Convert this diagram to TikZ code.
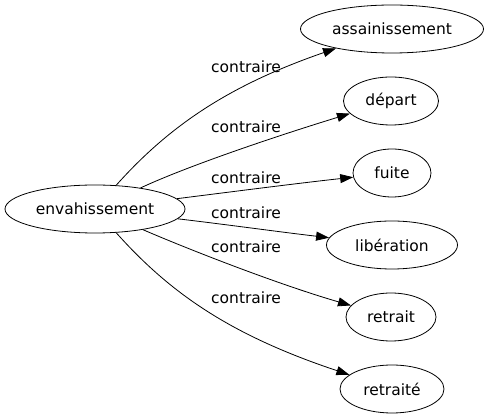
\documentclass[tikz,border=0pt]{standalone}
\usepackage{fontspec}
\setmainfont{DejaVu Sans}
\usetikzlibrary{shapes.geometric,arrows.meta}

\begin{document}
\begin{tikzpicture}[x=1pt, y=-1pt, line width=0.8pt,
  font=\fontsize{15.5}{18}\selectfont,
  word/.style={ellipse, draw, minimum height=48pt, inner sep=0pt},
  rel/.style={-{Triangle[length=13pt, width=9pt]}}]
\useasboundingbox (0,0) rectangle (488,419);
\node[word, minimum width=180pt] (env) at (95,209) {envahissement};
\node[word, minimum width=183pt] (ass) at (392,29) {assainissement};
\node[word, minimum width=95pt] (dep) at (391,101) {départ};
\node[word, minimum width=78pt] (fui) at (392,173) {fuite};
\node[word, minimum width=131pt] (lib) at (392,245) {libération};
\node[word, minimum width=90pt] (ret) at (391,317) {retrait};
\node[word, minimum width=104pt] (rete) at (392,389) {retraité};
\node (c1) at (246,67) {contraire};
\node (c2) at (246,127) {contraire};
\node (c3) at (246,178) {contraire};
\node (c4) at (246,213) {contraire};
\node (c5) at (246,247) {contraire};
\node (c6) at (246,298) {contraire};
\draw [rel] (env) .. controls (170,125) and (230,85) .. (ass);
\draw [rel] (env) .. controls (190,165) and (280,135) .. (dep);
\draw [rel] (env) .. controls (230,192) and (300,183) .. (fui);
\draw [rel] (env) .. controls (230,225) and (280,232) .. (lib);
\draw [rel] (env) .. controls (190,250) and (280,285) .. (ret);
\draw [rel] (env) .. controls (170,293) and (230,335) .. (rete);
\end{tikzpicture}
\end{document}
